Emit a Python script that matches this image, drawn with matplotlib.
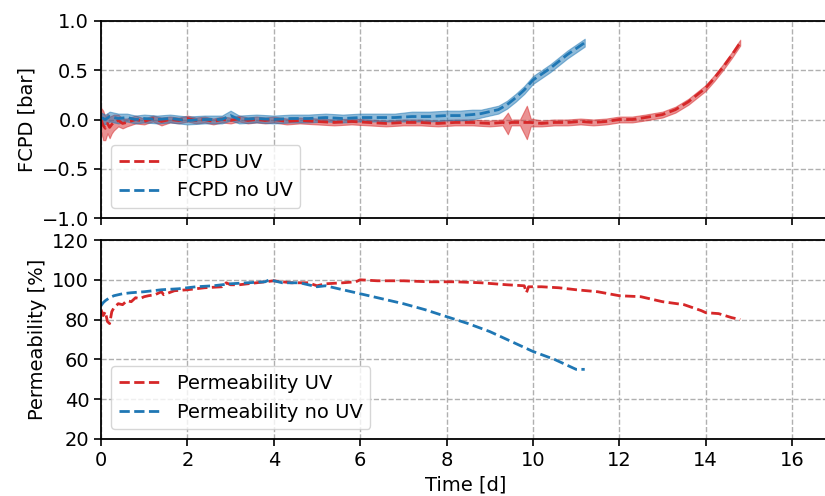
import matplotlib.pyplot as plt
import numpy as np

# FCPD, UV cell (time in days, pressure in bar, half width of shaded band)
t_fcpd_uv = [0.0, 0.05, 0.1, 0.15, 0.2, 0.25, 0.3, 0.4, 0.5, 0.6, 0.8, 1.0, 1.2, 1.4,
             1.6, 1.8, 2.0, 2.2, 2.4, 2.6, 2.8, 3.0, 3.2, 3.4, 3.6, 3.8, 4.0, 4.3,
             4.6, 5.0, 5.4, 5.8, 6.2, 6.6, 7.0, 7.4, 7.8, 8.2, 8.6, 9.0, 9.3, 9.42,
             9.5, 9.7, 9.86, 9.95, 10.2, 10.5, 10.8, 11.1, 11.4, 11.7, 12.0, 12.3,
             12.6, 13.0, 13.3, 13.6, 13.8, 14.0, 14.2, 14.4, 14.6, 14.8]
fcpd_uv = [0.0, -0.06, -0.09, -0.04, -0.08, -0.05, -0.03, -0.01, -0.04, -0.03, 0.0,
           -0.02, 0.01, -0.02, 0.0, -0.01, 0.01, -0.01, 0.0, -0.02, 0.0, -0.01, 0.01,
           -0.01, 0.0, -0.01, 0.0, -0.02, -0.01, -0.02, -0.03, -0.02, -0.03, -0.04,
           -0.03, -0.03, -0.04, -0.03, -0.03, -0.04, -0.03, -0.04, -0.03, -0.03,
           -0.03, -0.03, -0.04, -0.03, -0.03, -0.02, -0.03, -0.02, 0.0, 0.0, 0.02,
           0.05, 0.1, 0.18, 0.25, 0.32, 0.42, 0.53, 0.65, 0.78]
band_uv = [0.12, 0.15, 0.12, 0.1, 0.11, 0.09, 0.08, 0.06, 0.05, 0.04, 0.04, 0.03,
           0.03, 0.04, 0.03, 0.03, 0.03, 0.03, 0.03, 0.03, 0.03, 0.03, 0.03, 0.03,
           0.03, 0.03, 0.03, 0.03, 0.03, 0.03, 0.03, 0.03, 0.03, 0.03, 0.03, 0.03,
           0.03, 0.03, 0.03, 0.03, 0.03, 0.11, 0.03, 0.03, 0.17, 0.04, 0.03, 0.03,
           0.03, 0.03, 0.03, 0.03, 0.03, 0.03, 0.03, 0.03, 0.03, 0.03, 0.03, 0.03,
           0.03, 0.03, 0.03, 0.03]

# FCPD, no UV cell
t_fcpd_nouv = [0.0, 0.1, 0.2, 0.4, 0.6, 0.8, 1.0, 1.3, 1.6, 2.0, 2.4, 2.8, 3.0, 3.2,
               3.6, 4.0, 4.4, 4.8, 5.2, 5.6, 6.0, 6.4, 6.8, 7.2, 7.6, 8.0, 8.3, 8.6,
               8.8, 9.0, 9.2, 9.4, 9.6, 9.8, 10.0, 10.2, 10.4, 10.6, 10.8, 11.0, 11.2]
fcpd_nouv = [0.02, 0.0, 0.03, 0.01, 0.02, 0.0, 0.01, 0.0, 0.01, -0.01, 0.0, 0.0, 0.04,
             0.0, 0.01, 0.0, 0.01, 0.01, 0.02, 0.01, 0.02, 0.02, 0.02, 0.03, 0.03,
             0.04, 0.04, 0.05, 0.06, 0.08, 0.1, 0.15, 0.22, 0.3, 0.4, 0.46, 0.52,
             0.59, 0.66, 0.72, 0.78]
band_nouv = [0.05, 0.05, 0.05, 0.05, 0.04, 0.04, 0.04, 0.04, 0.04, 0.04, 0.04, 0.04,
             0.05, 0.04, 0.04, 0.04, 0.04, 0.04, 0.04, 0.04, 0.04, 0.04, 0.04, 0.05,
             0.05, 0.05, 0.05, 0.05, 0.04, 0.04, 0.04, 0.04, 0.04, 0.04, 0.04, 0.04,
             0.04, 0.04, 0.04, 0.04, 0.04]

# Permeability, UV cell
t_perm_uv = [0.0, 0.05, 0.1, 0.15, 0.2, 0.25, 0.3, 0.4, 0.5, 0.6, 0.7, 0.8, 0.9, 1.0,
             1.1, 1.25, 1.4, 1.45, 1.7, 2.0, 2.4, 2.8, 2.9, 3.0, 3.2, 3.6, 4.0, 4.4,
             4.8, 5.0, 5.2, 5.6, 5.9, 6.0, 6.4, 7.0, 7.6, 8.2, 8.8, 9.4, 9.8, 9.85,
             9.9, 10.2, 10.6, 11.0, 11.5, 12.0, 12.5, 13.0, 13.5, 13.9, 14.0, 14.3,
             14.6, 14.8]
perm_uv = [85.0, 82.0, 84.0, 79.0, 78.0, 84.0, 86.0, 88.0, 87.5, 89.5, 89.0, 91.0, 90.5,
           91.5, 92.0, 92.5, 94.0, 92.5, 94.5, 95.0, 96.0, 96.5, 98.5, 97.5, 97.5,
           98.5, 99.5, 98.5, 98.5, 97.0, 98.0, 98.5, 99.0, 100.0, 99.5, 99.5, 99.0,
           99.0, 98.5, 97.5, 97.0, 93.5, 96.5, 96.5, 96.0, 95.0, 94.0, 92.0, 91.5,
           89.0, 87.5, 84.5, 83.5, 83.0, 81.0, 80.0]

# Permeability, no UV cell
t_perm_nouv = [0.0, 0.05, 0.1, 0.2, 0.3, 0.5, 0.7, 1.0, 1.4, 1.8, 2.2, 2.6, 3.0, 3.4,
               3.8, 3.9, 4.2, 4.6, 5.0, 5.2, 5.6, 6.0, 6.5, 7.0, 7.5, 8.0, 8.5, 9.0,
               9.5, 10.0, 10.5, 10.9, 11.0, 11.2]
perm_nouv = [87.0, 88.5, 89.5, 91.0, 92.0, 93.0, 93.5, 94.0, 95.0, 95.5, 96.5, 97.0, 98.0,
             98.5, 99.0, 100.0, 98.5, 98.5, 96.5, 97.0, 95.0, 93.0, 90.5, 88.0, 85.0,
             81.5, 78.0, 74.0, 69.0, 64.0, 60.0, 56.0, 55.0, 55.0]

RED = '#d62728'
BLUE = '#1f77b4'

plt.rcParams['font.size'] = 14

fig = plt.figure(figsize=(8.25, 4.96), dpi=100)
ax1 = fig.add_axes([101 / 825, 1 - 218 / 496, 729 / 825, 197 / 496])
ax2 = fig.add_axes([101 / 825, 1 - 439 / 496, 729 / 825, 199 / 496], sharex=ax1)

for t, y, b, c, lab in [(t_fcpd_uv, fcpd_uv, band_uv, RED, 'FCPD UV'),
                        (t_fcpd_nouv, fcpd_nouv, band_nouv, BLUE, 'FCPD no UV')]:
    t, y, b = np.array(t), np.array(y), np.array(b)
    ax1.fill_between(t, y - b, y + b, color=c, alpha=0.5, lw=0.8)
    ax1.plot(t, y, '--', color=c, lw=2, label=lab)

ax2.plot(t_perm_uv, perm_uv, '--', color=RED, lw=2, label='Permeability UV')
ax2.plot(t_perm_nouv, perm_nouv, '--', color=BLUE, lw=2, label='Permeability no UV')

ax1.set_ylim(-1.0, 1.0)
ax1.set_yticks([-1.0, -0.5, 0.0, 0.5, 1.0])
ax1.set_ylabel('FCPD [bar]')
ax1.tick_params(labelbottom=False)

ax2.set_xlim(0, 729 / 43.19)
ax2.set_xticks([0, 2, 4, 6, 8, 10, 12, 14, 16])
ax2.set_ylim(20, 120)
ax2.set_yticks([20, 40, 60, 80, 100, 120])
ax2.set_ylabel('Permeability [%]')
ax2.set_xlabel('Time [d]', labelpad=4)

for ax in (ax1, ax2):
    ax.grid(True, ls='--', color='#b0b0b0', lw=1)
    ax.set_axisbelow(True)
    ax.legend(loc='lower left', handlelength=2.2, borderaxespad=0.5)
    ax.tick_params(length=5, width=1.2)
    for s in ax.spines.values():
        s.set_linewidth(1.3)

fig.align_ylabels([ax1, ax2])
fig.savefig('out.png', dpi=100)
